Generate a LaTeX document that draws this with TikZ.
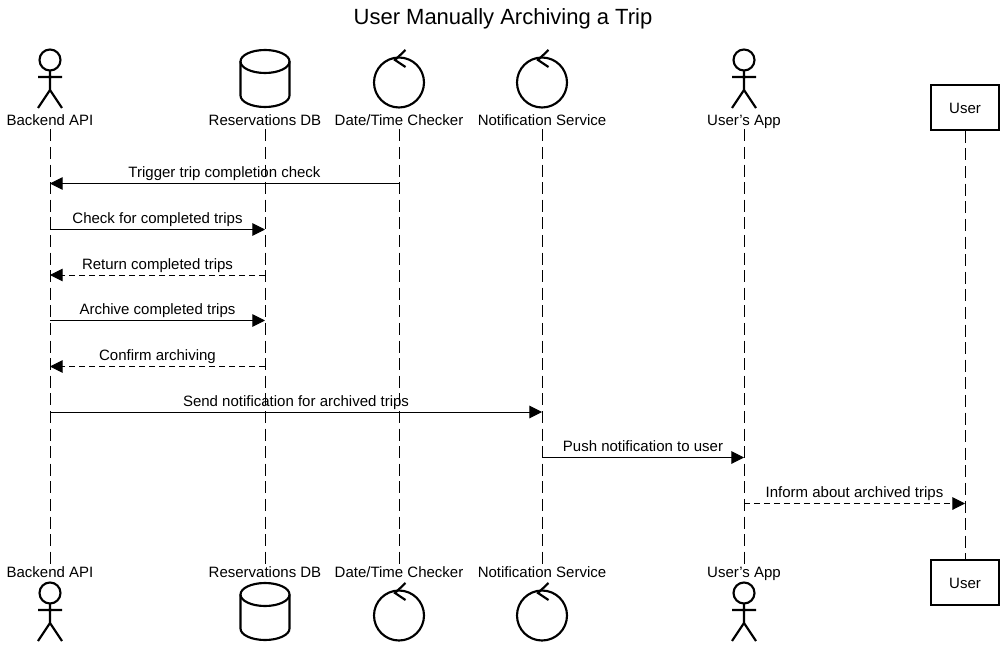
\documentclass[tikz,border=0pt]{standalone}
\usepackage{fontspec}
\setmainfont{Liberation Sans}
\usetikzlibrary{arrows.meta,positioning}

\tikzset{
  actorlabel/.style={font=\fontsize{11.25}{13}\selectfont, inner sep=0pt, text height=9.7pt, text depth=2.4pt},
  actorbox/.style={draw, line width=1.6pt, minimum width=51pt, minimum height=33.5pt, inner sep=0pt, text height=12pt, text depth=2.5pt, font=\fontsize{11.25}{13}\selectfont},
  lifeline/.style={line width=0.75pt, dash pattern=on 9pt off 4.2pt},
  msg/.style={-{Triangle[length=9.5pt,width=9.5pt]}, line width=0.75pt},
  msgdash/.style={msg, dash pattern=on 4.5pt off 3pt},
  msgtext/.style={font=\fontsize{11.25}{13}\selectfont, inner sep=0pt, anchor=base, yshift=4.5pt},
  figure line/.style={line width=1.6pt},
  stickman/.pic={
    \draw[figure line] (0,-61) circle[radius=10.5];
    \draw[figure line] (0,-50.5) -- (0,-31) (-12,-44) -- (12,-44)
      (-12,-13) -- (0,-31) -- (12,-13);
  },
  database/.pic={
    \draw[figure line] (-24.5,-59.5) arc[start angle=180,end angle=-180,x radius=24.5,y radius=11.5];
    \draw[figure line] (-24.5,-59.5) -- (-24.5,-25.5)
      arc[start angle=180,end angle=0,x radius=24.5,y radius=11.5] -- (24.5,-59.5);
  },
  controller/.pic={
    \draw[figure line] (0,-38.5) circle[radius=25];
    \draw[figure line] (6.5,-71) -- (-4,-61) -- (6.5,-54);
  }
}

\begin{document}
\begin{tikzpicture}[%
x=0.75pt,
y=-0.75pt,
node distance=100pt,
on grid
]
\useasboundingbox (0,0) rectangle (1005,652);

\node[font=\fontsize{16.5}{20}\selectfont, inner sep=0pt] (title) at (503,18.5) {User Manually Archiving a Trip};

% top row
\node[actorlabel] (api) at (50,121) {Backend API};
\node[actorlabel] (resdb) [right=161.25pt of api] {Reservations DB};
\node[actorlabel] (checker) [right=100.5pt of resdb] {Date/Time Checker};
\node[actorlabel] (notify) [right=107.25pt of checker] {Notification Service};
\node[actorlabel] (app) [right=151.5pt of notify] {User's App};
\node[actorbox] (user) at (965,107.5) {User};

% bottom row
\node[actorlabel] (api') [below=339pt of api] {Backend API};
\node[actorlabel] (resdb') [below=339pt of resdb] {Reservations DB};
\node[actorlabel] (checker') [below=339pt of checker] {Date/Time Checker};
\node[actorlabel] (notify') [below=339pt of notify] {Notification Service};
\node[actorlabel] (app') [below=339pt of app] {User's App};
\node[actorbox] (user') [below=356.25pt of user] {User};

% figures
\pic at (api) {stickman};
\pic at (resdb) {database};
\pic at (checker) {controller};
\pic at (notify) {controller};
\pic at (app) {stickman};
\pic at ([yshift=-60.75pt]api'.center) {stickman};
\pic at ([yshift=-60.75pt]resdb'.center) {database};
\pic at ([yshift=-60.75pt]checker'.center) {controller};
\pic at ([yshift=-60.75pt]notify'.center) {controller};
\pic at ([yshift=-60.75pt]app'.center) {stickman};

% lifelines
\draw[lifeline] (api) -- (api');
\draw[lifeline] (resdb) -- (resdb');
\draw[lifeline] (checker) -- (checker');
\draw[lifeline] (notify) -- (notify');
\draw[lifeline] (app) -- (app');
\draw[lifeline] (user) -- (user');

% points on the lifelines
\coordinate (a1) at (api |- 0,183.5);
\coordinate (c1) at (checker |- 0,183.5);
\coordinate (a2) at (api |- 0,229.5);
\coordinate (r2) at (resdb |- 0,229.5);
\coordinate (a3) at (api |- 0,275);
\coordinate (r3) at (resdb |- 0,275);
\coordinate (a4) at (api |- 0,320.5);
\coordinate (r4) at (resdb |- 0,320.5);
\coordinate (a5) at (api |- 0,366.5);
\coordinate (r5) at (resdb |- 0,366.5);
\coordinate (a6) at (api |- 0,412);
\coordinate (n6) at (notify |- 0,412);
\coordinate (n7) at (notify |- 0,457.5);
\coordinate (p7) at (app |- 0,457.5);
\coordinate (p8) at (app |- 0,503.5);
\coordinate (u8) at (user |- 0,503.5);

% messages
\path (c1) edge[msg] node[msgtext] {Trigger trip completion check} (a1);
\path (a2) edge[msg] node[msgtext] {Check for completed trips} (r2);
\path (r3) edge[msgdash] node[msgtext] {Return completed trips} (a3);
\path (a4) edge[msg] node[msgtext] {Archive completed trips} (r4);
\path (r5) edge[msgdash] node[msgtext] {Confirm archiving} (a5);
\path (a6) edge[msg] node[msgtext] {Send notification for archived trips} (n6);
\path (n7) edge[msg] node[msgtext] {Push notification to user} (p7);
\path (p8) edge[msgdash] node[msgtext] {Inform about archived trips} (u8);
\end{tikzpicture}
\end{document}
